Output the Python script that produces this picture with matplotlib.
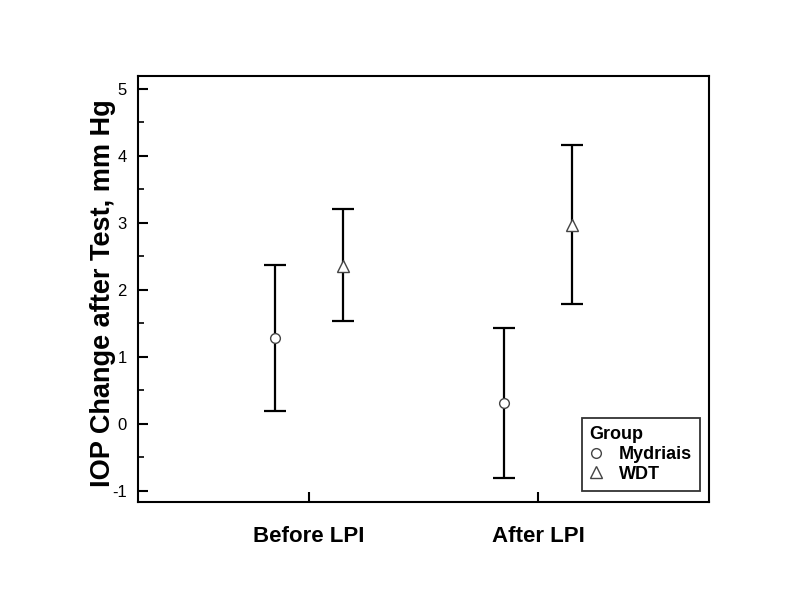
import matplotlib
matplotlib.use("Agg")
import matplotlib.pyplot as plt
from matplotlib.lines import Line2D
from matplotlib.ticker import MultipleLocator, FuncFormatter

plt.rcParams['font.family'] = ['Liberation Sans', 'DejaVu Sans']

categories = ["Before LPI", "After LPI"]
groups = ["Mydriais", "WDT"]
means = {"Mydriais": [1.28, 0.31], "WDT": [2.35, 2.97]}
upper = {"Mydriais": [2.37, 1.43], "WDT": [3.21, 4.16]}
lower = {"Mydriais": [0.19, -0.81], "WDT": [1.53, 1.78]}
markers = {"Mydriais": "o", "WDT": "^"}
offsets = {"Mydriais": -0.15, "WDT": 0.15}

fig = plt.figure(figsize=(8, 5.99), dpi=100)
ax = fig.add_axes([138/800, 1-502/599, 571/800, 426/599])

for g in groups:
    xs = [i + 1 + offsets[g] for i in range(len(categories))]
    m = means[g]
    yerr = [[m[i] - lower[g][i] for i in range(len(m))],
            [upper[g][i] - m[i] for i in range(len(m))]]
    ax.errorbar(xs, m, yerr=yerr, fmt='none', ecolor='black', elinewidth=1.6,
                capsize=8, capthick=1.6, zorder=2)
    ax.plot(xs, m, linestyle='none', marker=markers[g], markersize=7 if g == "Mydriais" else 8,
            markerfacecolor='white', markeredgecolor='#444444', markeredgewidth=1.0, zorder=3)

ax.set_xlim(0.253, 2.747)
ax.set_ylim(-1.17, 5.19)
ax.set_xticks([1, 2])
ax.set_xticklabels(categories, fontsize=16, fontweight='bold')
ax.set_yticks(range(-1, 6))
ax.yaxis.set_major_formatter(FuncFormatter(lambda v, p: "%d" % v))
ax.yaxis.set_minor_locator(MultipleLocator(0.5))
ax.tick_params(axis='y', which='major', direction='in', length=7, width=1.5, labelsize=12, pad=8)
ax.tick_params(axis='y', which='minor', direction='in', length=4, width=1.2)
ax.tick_params(axis='x', which='major', direction='in', length=7, width=1.5, pad=17)
ax.tick_params(axis='x', which='minor', bottom=False)
for s in ax.spines.values():
    s.set_linewidth(1.5)
ax.set_ylabel("IOP Change after Test, mm Hg", fontsize=19.5, fontweight='bold')
ax.yaxis.set_label_coords(-0.038, 0.49)

handles = [Line2D([], [], linestyle='none', marker=markers[g],
                  markersize=7 if g == "Mydriais" else 8,
                  markerfacecolor='white', markeredgecolor='#444444', markeredgewidth=1.0)
           for g in groups]
leg = ax.legend(handles, groups, title="Group", loc='lower right',
                bbox_to_anchor=(0.984, 0.026), borderaxespad=0, frameon=True,
                fancybox=False, edgecolor='black', prop={'weight': 'bold', 'size': 13},
                title_fontproperties={'weight': 'bold', 'size': 13},
                handlelength=0.7, handletextpad=0.9, borderpad=0.45, labelspacing=0.15)
leg._legend_box.align = "left"
leg.get_frame().set_linewidth(1.3)

fig.savefig("out.png", dpi=100)
